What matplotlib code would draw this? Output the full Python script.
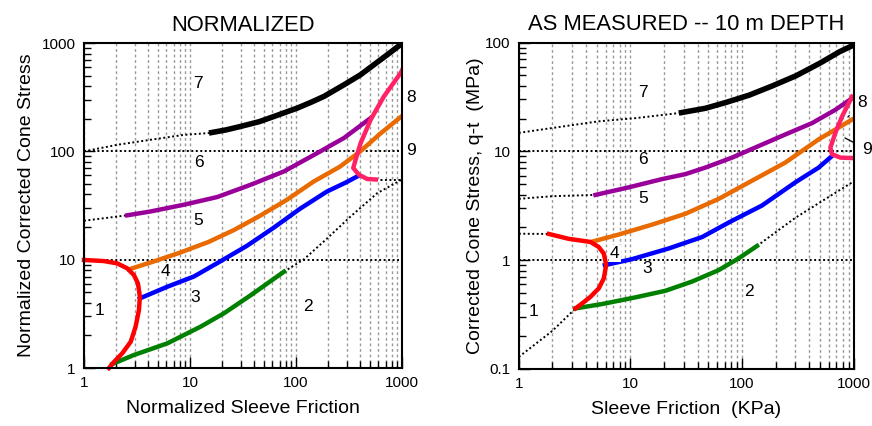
import numpy as np
import matplotlib.pyplot as plt
from matplotlib.ticker import FuncFormatter, NullFormatter, LogLocator

plt.rcParams['font.family'] = ['Liberation Sans', 'DejaVu Sans']

# ---- NORMALIZED chart (left) ----
n7_x = [15.1, 22, 30.1, 45, 62, 103, 140, 184, 284, 407, 544, 727, 1000]
n7_y = [147.6, 158, 170, 188, 210, 251, 285, 322, 412, 510, 631, 780, 990]
n7d_x = [1, 2.06, 4.26, 8.77, 15.1]
n7d_y = [100, 115, 128, 142, 147.6]

n6_x = [2.56, 4.26, 8.78, 18.1, 37.4, 77, 159, 284, 506]
n6_y = [25.7, 27.9, 32.2, 37.9, 49.2, 65.3, 96.5, 133, 203]
n6d_x = [1, 2.56]
n6d_y = [22.9, 25.7]

n5_x = [2.66, 4.5, 8.0, 15, 26, 45, 81.6, 146, 260, 402, 620, 1000]
n5_y = [8.15, 9.6, 11.6, 14.6, 18.8, 25.2, 35.6, 52.5, 72.3, 99.6, 145, 212]

n3_x = [3.37, 6.11, 10.9, 19.5, 34.3, 61, 109, 195, 300, 379]
n3_y = [4.4, 5.63, 7.0, 9.7, 13.4, 19.6, 29.5, 42.5, 52, 58.8]

n2_x = [1.85, 2.96, 6.11, 12.6, 20.9, 37.4, 57.7, 77]
n2_y = [1.09, 1.32, 1.69, 2.41, 3.2, 4.7, 6.35, 7.75]
n2d_x = [77, 119, 184, 328, 585, 1000]
n2d_y = [7.75, 10.1, 14.8, 25.1, 41.2, 55]

n1_x = [1, 1.54, 2.06, 2.56, 2.96, 3.23, 3.37, 3.3, 3.07, 2.76, 2.3, 1.92, 1.72]
n1_y = [9.95, 9.72, 9.25, 8.32, 7.22, 6.05, 4.55, 3.43, 2.41, 1.75, 1.37, 1.14, 1.0]

n8_x = [1000, 971, 676, 506, 407, 365, 347, 392, 470, 565]
n8_y = [560, 528, 322, 196, 119, 83.7, 70.2, 60.9, 55.6, 55]
n9d_x = [565, 1000]
n9d_y = [55, 55]

n_labels = ['7', '6', '5', '4', '3', '2', '1', '8', '9']
n_lab_x = [11.9, 12.2, 11.9, 5.81, 11.1, 130, 1.39, 1210, 1210]
n_lab_y = [427, 79.7, 23.1, 7.75, 4.46, 3.73, 3.43, 316, 101]

# ---- AS MEASURED chart (right) ----
m7_x = [27.1, 47, 71.9, 116, 188, 305, 493, 745, 1000]
m7_y = [22.5, 24.9, 28.2, 32.9, 40.1, 49.6, 64.3, 82.3, 95]
m7d_x = [1, 1.99, 5.2, 11.1, 27.1]
m7d_y = [14.8, 16.4, 18.9, 20.2, 22.5]

m6_x = [4.86, 9.66, 19.2, 31.1, 47, 81.3, 141, 244, 424, 685, 1000]
m6_y = [3.98, 4.67, 5.56, 6.18, 7.1, 8.76, 11.2, 14.3, 18.2, 24.1, 31.5]
m6d_x = [1, 1.99, 4.86]
m6d_y = [3.66, 3.87, 3.98]

m5_x = [4.54, 7.86, 15.6, 31.1, 61.8, 123, 244, 486, 1000]
m5_y = [1.48, 1.72, 2.12, 2.67, 3.66, 5.38, 7.89, 12.9, 20]

m3_x = [5.9, 10.3, 22, 43.8, 78, 151, 300, 486, 640]
m3_y = [0.9, 1.02, 1.28, 1.63, 2.25, 3.18, 5.19, 7.1, 9.07]

m2_x = [3.22, 5.58, 11.1, 20.6, 35.7, 61.8, 93.4, 136]
m2_y = [0.36, 0.395, 0.455, 0.523, 0.636, 0.81, 1.04, 1.35]
m2d_x = [136, 300, 1000]
m2d_y = [1.35, 2.45, 5.3]
m1d_x = [1, 1.99, 3.22]
m1d_y = [0.129, 0.223, 0.36]

m1_x = [1.86, 2.8, 4.38, 5.2, 5.77, 6.06, 5.77, 5.2, 4.38, 3.69, 3.22]
m1_y = [1.74, 1.57, 1.47, 1.32, 1.15, 0.9, 0.68, 0.55, 0.46, 0.40, 0.36]
m1h_x = [1, 1.86]
m1h_y = [1.75, 1.74]

m8_x = [966, 786, 685, 618, 640, 760, 1000]
m8_y = [31.8, 20.9, 14.8, 10.8, 9.4, 8.76, 8.67]

m_labels = ['7', '6', '5', '4', '3', '2', '1']
m_lab_x = [12.9, 12.9, 12.9, 7.24, 14.1, 115, 1.36]
m_lab_y = [34.9, 8.46, 3.66, 1.15, 0.83, 0.52, 0.34]

PURPLE = '#990099'
ORANGE = '#e86a00'
PINK = '#ff2266'
LW = 3.2
DOT = dict(color='black', lw=1.4, ls=(0, (1, 1.3)))
NUMSIZE = 12.5

fig = plt.figure(figsize=(8.72, 4.26), dpi=100)
ax1 = fig.add_axes([0.0963, 0.136, 0.3647, 0.763])
ax2 = fig.add_axes([0.595, 0.134, 0.384, 0.766])


def style(ax, ylim):
    ax.set_xscale('log')
    ax.set_yscale('log')
    ax.set_xlim(1, 1000)
    ax.set_ylim(*ylim)
    ax.xaxis.set_minor_locator(LogLocator(base=10, subs=np.arange(2, 10)))
    ax.yaxis.set_minor_locator(LogLocator(base=10, subs=np.arange(2, 10)))
    fmt = FuncFormatter(lambda v, p: '%g' % v)
    ax.xaxis.set_major_formatter(fmt)
    ax.yaxis.set_major_formatter(fmt)
    ax.xaxis.set_minor_formatter(NullFormatter())
    ax.yaxis.set_minor_formatter(NullFormatter())
    ax.tick_params(which='both', direction='in', top=False, right=False,
                   labelsize=11, width=1)
    ax.tick_params(which='major', length=8, pad=6)
    ax.tick_params(which='minor', length=5)
    ax.xaxis.grid(True, which='both', color='#999999', lw=1, ls=(0, (2, 2)))
    ax.yaxis.grid(True, which='major', color='black', lw=1.4, ls=(0, (1, 1.3)))
    ax.set_axisbelow(True)
    for s in ax.spines.values():
        s.set_linewidth(1.5)


style(ax1, (1, 1000))
style(ax2, (0.1, 100))

# left chart
ax1.plot(n7d_x, n7d_y, **DOT)
ax1.plot(n6d_x, n6d_y, **DOT)
ax1.plot(n2d_x, n2d_y, **DOT)
ax1.plot(n9d_x, n9d_y, **DOT)
ax1.plot(n7_x, n7_y, color='black', lw=LW + 0.8, solid_capstyle='butt')
ax1.plot(n6_x, n6_y, color=PURPLE, lw=LW)
ax1.plot(n5_x, n5_y, color=ORANGE, lw=LW)
ax1.plot(n3_x, n3_y, color='blue', lw=LW)
ax1.plot(n2_x, n2_y, color='green', lw=LW)
ax1.plot(n1_x, n1_y, color='red', lw=LW, clip_on=False)
ax1.plot(n8_x, n8_y, color=PINK, lw=LW)
for t, x, y in zip(n_labels, n_lab_x, n_lab_y):
    ax1.text(x, y, t, fontsize=NUMSIZE, ha='center', va='center', clip_on=False)
ax1.set_title('NORMALIZED', fontsize=15.8, pad=9)
ax1.set_xlabel('Normalized Sleeve Friction', fontsize=14, labelpad=7)
ax1.set_ylabel('Normalized Corrected Cone Stress', fontsize=14, labelpad=5)

# right chart
ax2.plot(m7d_x, m7d_y, **DOT)
ax2.plot(m6d_x, m6d_y, **DOT)
ax2.plot(m2d_x, m2d_y, **DOT)
ax2.plot(m1d_x, m1d_y, **DOT)
ax2.plot(m1h_x, m1h_y, **DOT)
ax2.plot(m7_x, m7_y, color='black', lw=LW + 0.8, solid_capstyle='butt')
ax2.plot(m6_x, m6_y, color=PURPLE, lw=LW)
ax2.plot(m5_x, m5_y, color=ORANGE, lw=LW)
ax2.plot(m3_x, m3_y, color='blue', lw=LW)
ax2.plot(m2_x, m2_y, color='green', lw=LW)
ax2.plot(m1_x, m1_y, color='red', lw=LW)
ax2.plot(m8_x, m8_y, color=PINK, lw=LW)
for t, x, y in zip(m_labels, m_lab_x, m_lab_y):
    bb = dict(facecolor='white', edgecolor='none', pad=1) if t == '4' else None
    ax2.text(x, y, t, fontsize=NUMSIZE, ha='center', va='center', bbox=bb)
ax2.annotate('8', xy=(887, 20.7), xytext=(1180, 27.9), fontsize=NUMSIZE,
             ha='center', va='center', annotation_clip=False,
             arrowprops=dict(arrowstyle='-', lw=0.9, color='black', shrinkA=5, shrinkB=0))
ax2.annotate('9', xy=(834, 13.3), xytext=(1320, 10.4), fontsize=NUMSIZE,
             ha='center', va='center', annotation_clip=False,
             arrowprops=dict(arrowstyle='-', lw=0.9, color='black', shrinkA=5, shrinkB=0))
ax2.set_title('AS MEASURED -- 10 m DEPTH', fontsize=15.8, pad=9)
ax2.set_xlabel('Sleeve Friction  (KPa)', fontsize=14, labelpad=7)
ax2.set_ylabel('Corrected Cone Stress, q-t  (MPa)', fontsize=14, labelpad=1)

fig.savefig('out.png', dpi=100)
